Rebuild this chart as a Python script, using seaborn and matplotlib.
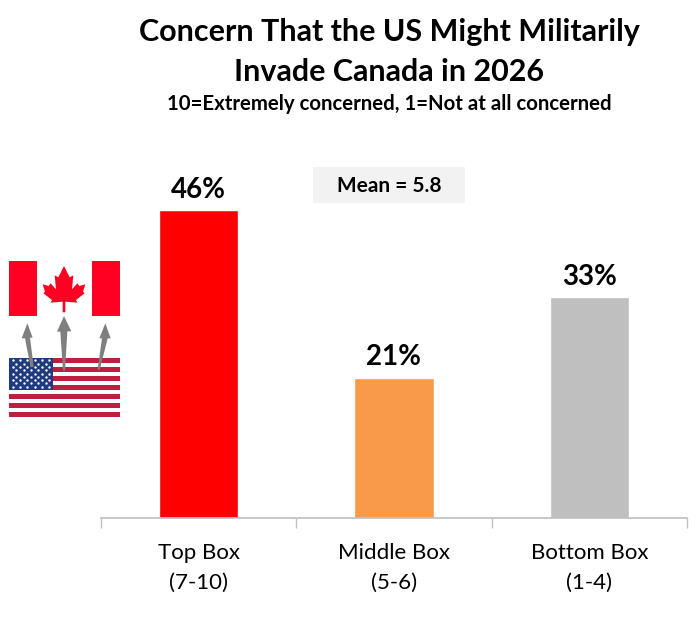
import matplotlib
matplotlib.use("Agg")
import matplotlib.pyplot as plt
from matplotlib.patches import Rectangle, Polygon
import numpy as np
import pandas as pd
import seaborn as sns

categories = ["Top Box\n(7-10)", "Middle Box\n(5-6)", "Bottom Box\n(1-4)"]
values = [46, 21, 33]
labels = ["46%", "21%", "33%"]
colors = ["#FF0000", "#F99A4A", "#BFBFBF"]
title = "Concern That the US Might Militarily\nInvade Canada in 2026"
subtitle = "10=Extremely concerned, 1=Not at all concerned"
mean_text = "Mean = 5.8"

sns.set_theme(style="white")
plt.rcParams["font.family"] = ["Lato", "DejaVu Sans"]

W, H = 698, 622
fig = plt.figure(figsize=(W / 100, H / 100), dpi=100, facecolor="white")
ax = fig.add_axes([101 / W, (H - 518) / H, 586 / W, 388 / H])
df = pd.DataFrame({"cat": categories, "val": values})
sns.barplot(data=df, x="cat", y="val", hue="cat", palette=colors, width=0.405,
            legend=False, ax=ax, saturation=1)
ax.set_xlim(-0.5, 2.5)
ax.set_ylim(0, 388 / 6.69)
ax.set_xlabel("")
ax.set_ylabel("")
ax.set_yticks([])
for s in ["top", "left", "right"]:
    ax.spines[s].set_visible(False)
ax.spines["bottom"].set_color("#BFBFBF")
ax.spines["bottom"].set_linewidth(1.2)
ax.set_xticks([-0.5, 0.5, 1.5, 2.5], minor=True)
ax.tick_params(axis="x", which="minor", length=7, width=1, color="#BFBFBF", bottom=True)
ax.tick_params(axis="x", which="major", length=0, pad=18, labelsize=16, labelcolor="black")
for t in ax.get_xticklabels():
    t.set_linespacing(1.6)
for i, (v, lab) in enumerate(zip(values, labels)):
    ax.annotate(lab, (i, v), xytext=(0, 5.2), textcoords="offset points", ha="center",
                va="bottom", fontsize=20, fontweight="bold", color="black")

ov = fig.add_axes([0, 0, 1, 1], facecolor="none")
ov.set_xlim(0, W)
ov.set_ylim(H, 0)
ov.axis("off")

ov.text(389, 52, title, ha="center", va="center", fontsize=22, fontweight="bold",
        color="black", linespacing=1.56)
ov.text(389, 104, subtitle, ha="center", va="center", fontsize=14.7, fontweight="bold", color="black")
ov.add_patch(Rectangle((313, 167), 152, 36, fc="#F2F2F2", ec="none"))
ov.text(389, 185.5, mean_text, ha="center", va="center", fontsize=15, fontweight="bold", color="black")

# Canadian flag
red = "#FF0022"
ov.add_patch(Rectangle((9, 261), 28, 55, fc=red, ec="none"))
ov.add_patch(Rectangle((92, 261), 28, 55, fc=red, ec="none"))
half = [(192, 48), (209, 82), (220, 76), (216, 118), (232, 100), (238, 108), (256, 103),
        (249, 125), (254, 130), (228, 150), (232, 158), (196, 155), (196, 187)]
leaf = half + [(384 - x, y) for x, y in reversed(half[1:])]
ov.add_patch(Polygon([(x / 3, 250 + y / 3) for x, y in leaf], fc=red, ec="none"))

# US flag
x0, x1, y0, y1 = 9, 120, 358, 417
sh = (y1 - y0) / 13
for k in range(0, 13, 2):
    ov.add_patch(Rectangle((x0, y0 + k * sh), x1 - x0, sh, fc="#BF1F3F", ec="none"))
ov.add_patch(Rectangle((x0, y0), 44, 7 * sh, fc="#1F3A7D", ec="none"))
sx, sy = [], []
for r in range(9):
    n = 6 if r % 2 == 0 else 5
    for c in range(n):
        sx.append(x0 + 3.7 + c * 7.3 + (0 if r % 2 == 0 else 3.65))
        sy.append(y0 + 2.3 + r * 3.3)
ov.scatter(sx, sy, s=3, c="white", marker="o", linewidths=0, zorder=5)

# arrows
arrows = [
    [(82, 220), (98, 263), (90, 263), (101, 350), (92, 352), (75, 265), (65, 265)],
    [(192, 198), (214, 244), (202, 244), (195, 362), (189, 362), (181, 245), (171, 245)],
    [(316, 220), (332, 265), (323, 265), (299, 360), (293, 358), (306, 265), (298, 265)],
]
for a in arrows:
    ov.add_patch(Polygon([(x / 3, 250 + y / 3) for x, y in a], fc="#7F7F7F", ec="none", zorder=6))

fig.savefig("out.png", dpi=100, facecolor="white")
